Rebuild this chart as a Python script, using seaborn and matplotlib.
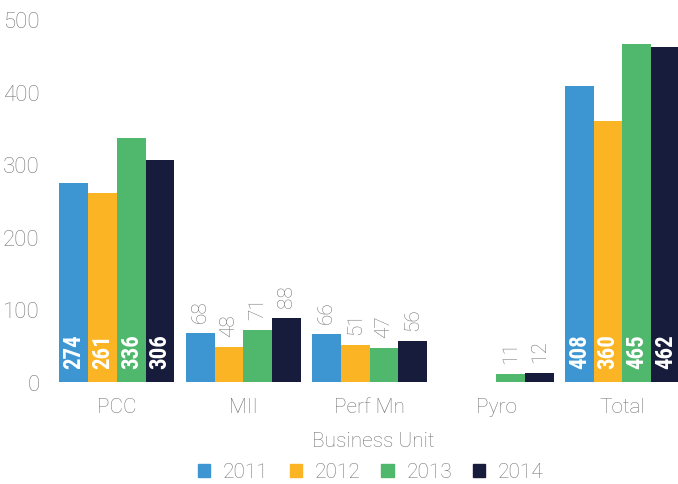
import numpy as np
import pandas as pd
import matplotlib
matplotlib.use('Agg')
import matplotlib.pyplot as plt
import seaborn as sns
from matplotlib.patches import Patch

# data
units = ['PCC', 'MII', 'Perf Mn', 'Pyro', 'Total']
years = ['2011', '2012', '2013', '2014']
v2011 = [274, 68, 66, np.nan, 408]
v2012 = [261, 48, 51, np.nan, 360]
v2013 = [336, 71, 47, 11, 465]
v2014 = [306, 88, 56, 12, 462]
colors = ['#3D96D2', '#FBB423', '#50B86C', '#171C3D']
grey = '#777777'

df = pd.DataFrame({'unit': units * 4,
                   'year': [y for y in years for _ in units],
                   'value': v2011 + v2012 + v2013 + v2014})

sns.set_style('white')
plt.rcParams['font.family'] = ['Roboto', 'DejaVu Sans']

fig = plt.figure(figsize=(6.78, 4.85), dpi=100)
ax = fig.add_axes([55 / 678, 102 / 485, 1 - 55 / 678, 363 / 485])

sns.barplot(data=df, x='unit', y='value', hue='year', hue_order=years,
            order=units, palette=colors, width=0.91, gap=0, errorbar=None,
            saturation=1, legend=False, linewidth=0, ax=ax)

# value labels: inside (white, bold) for tall bars, above (grey) for short ones
for cont in ax.containers:
    for bar in cont:
        h = bar.get_height()
        if np.isnan(h) or h == 0:
            continue
        x = bar.get_x() + bar.get_width() / 2
        if h > 200:
            ax.annotate(f'{h:.0f}', (x, 0), xytext=(0, 10), textcoords='offset points',
                        rotation=90, ha='center', va='bottom', color='white',
                        fontsize=16.5, fontweight='bold',
                        family=['Roboto Condensed', 'Liberation Sans Narrow', 'DejaVu Sans'])
        else:
            ax.annotate(f'{h:.0f}', (x, h), xytext=(0, 8), textcoords='offset points',
                        rotation=90, ha='center', va='bottom', color=grey,
                        fontsize=15, fontweight='light')

ax.set_xlim(-0.49, 4.44)
ax.set_ylim(0, 500)
ax.set_yticks([0, 100, 200, 300, 400, 500])
sns.despine(ax=ax, left=True, bottom=True)
ax.tick_params(axis='y', length=0, pad=11, labelsize=16, labelcolor=grey)
ax.tick_params(axis='x', length=0, pad=11, labelsize=15, labelcolor=grey)
for t in ax.get_xticklabels() + ax.get_yticklabels():
    t.set_fontweight('light')
ax.set_ylabel('')
ax.set_xlabel('Business Unit', fontsize=15, color=grey, fontweight='light')
ax.xaxis.set_label_coords((373 - 55) / 623, -0.135)

handles = [Patch(color=c, label=y) for c, y in zip(colors, years)]
leg = fig.legend(handles=handles, loc='center', bbox_to_anchor=(0.547, 12 / 485),
                 ncol=4, frameon=False, fontsize=15, handlelength=0.6, handleheight=0.6,
                 handletextpad=0.6, columnspacing=1.0)
for t in leg.get_texts():
    t.set_color(grey)
    t.set_fontweight('light')

fig.savefig('out.png', dpi=100)
